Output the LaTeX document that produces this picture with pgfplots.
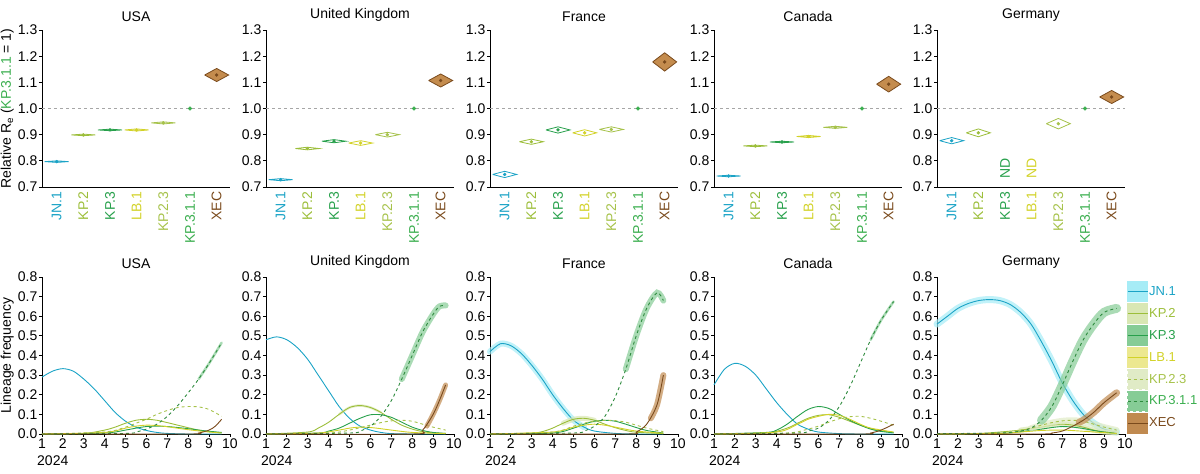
\documentclass[border=0pt]{standalone}
\usepackage{pgfplots}
\pgfplotsset{compat=1.18}
\usepackage{fontspec}
\setmainfont{Liberation Sans}
\definecolor{jn}{HTML}{1BA3C6}
\definecolor{kptwo}{HTML}{9CBE3A}
\definecolor{kpthree}{HTML}{27A04B}
\definecolor{lb}{HTML}{D2D228}
\definecolor{kptt}{HTML}{A6C24A}
\definecolor{kp311}{HTML}{3AAE4E}
\definecolor{xec}{HTML}{7A4A1C}
\definecolor{xecf}{HTML}{C48C4E}
\definecolor{jnb}{HTML}{A6ECF6}
\definecolor{kptwob}{HTML}{D9E7B4}
\definecolor{kpthreeb}{HTML}{86CC96}
\definecolor{lbb}{HTML}{ECE890}
\definecolor{kpttb}{HTML}{E0EBC6}
\definecolor{kp311b}{HTML}{86CC96}
\definecolor{xecb}{HTML}{C08A50}
\newcommand\vio[5]{%
\pgfmathsetmacro\xa{#1-0.45}\pgfmathsetmacro\xb{#1+0.45}%
\pgfmathsetmacro\ya{#2+#3}\pgfmathsetmacro\yb{#2-#3}%
\edef\tmp{\noexpand\addplot[draw=#4,fill=#5,line width=0.8pt] coordinates {(\xa,#2) (#1,\ya) (\xb,#2) (#1,\yb) (\xa,#2)};}\tmp
\addplot[#4,only marks,mark=*,mark size=1.5pt] coordinates {(#1,#2)};}
\newcommand\refdot[1]{\addplot[kp311,only marks,mark=*,mark size=1.8pt] coordinates {(5,1)};\addplot[gray!70,dashed,line width=0.6pt] coordinates {(-0.55,1)(6.5,1)};}
\newcommand\bcur[3]{\addplot[#1b,line width=#2,opacity=0.7,smooth,line cap=round,forget plot] coordinates {#3};}
\newcommand\cur[2]{\addplot[#1,line width=0.9pt,smooth] coordinates {#2};}
\newcommand\fs{\fontsize{14}{16}\selectfont}
\pgfplotsset{
base/.style={scale only axis,width=188pt,height=157pt,anchor=south west,
 axis x line*=bottom,axis y line*=left,axis line style={line width=0.8pt},
 tick style={black,line width=0.8pt},tick align=outside,major tick length=3pt,
 ticklabel style={font=\fs,inner sep=1.5pt},
 /pgf/number format/assume math mode=true,
 title style={font=\fs,yshift=-1pt},clip=false,
 yticklabel style={/pgf/number format/fixed,/pgf/number format/fixed zerofill,/pgf/number format/precision=1}},
top/.style={base,ymin=0.7,ymax=1.3,ytick={0.7,0.8,...,1.31},xmin=-0.55,xmax=6.5,xtick={0,...,6},
 major x tick style={draw=none},
 xticklabel style={rotate=90,anchor=east},
 xticklabels={\textcolor{jn}{JN.1},\textcolor{kptwo}{KP.2},\textcolor{kpthree}{KP.3},\textcolor{lb}{LB.1},\textcolor{kptt}{KP.2.3},\textcolor{kp311}{KP.3.1.1},\textcolor{xec}{XEC}}},
bot/.style={base,xmin=1,xmax=10,ymin=0,ymax=0.8,xtick={1,...,10},ytick={0,0.1,...,0.81}},
lg/.style n args={3}{legend image code/.code={\fill[#2] (0pt,-10pt) rectangle (20pt,10pt);\draw[#1,line width=0.9pt,#3] (0pt,0pt)--(20pt,0pt);}},
jnS/.style={jn,lg={jn}{jnb}{}},
kptwoS/.style={kptwo,lg={kptwo}{kptwob}{}},
kpthreeS/.style={kpthree,lg={kpthree}{kpthreeb}{}},
lbS/.style={lb,lg={lb}{lbb}{}},
kpttS/.style={kptt,dashed,lg={kptt}{kpttb}{dashed}},
kp311S/.style={kp311!80!black,dashed,lg={kp311!80!black}{kp311b}{dashed}},
xecS/.style={xec,lg={xec}{xecb}{}},
}
\begin{document}
\begin{tikzpicture}[x=1pt,y=1pt]
\useasboundingbox (0,0) rectangle (1200,474);
% ---------- top row
\begin{axis}[top,at={(42pt,287pt)},title={USA},ylabel={Relative R\textsubscript{e} (\textcolor{kp311}{KP.3.1.1} = 1)},ylabel style={font=\fs,yshift=-1pt}]
\refdot{}
\vio{0}{0.797}{0.003}{jn}{jn!30}
\vio{1}{0.899}{0.003}{kptwo}{kptwo!30}
\vio{2}{0.918}{0.003}{kpthree}{kpthree!30}
\vio{3}{0.918}{0.004}{lb}{lb!40}
\vio{4}{0.945}{0.004}{kptt}{kptt!30}
\vio{6}{1.128}{0.025}{xec}{xecf}
\end{axis}
\begin{axis}[top,at={(266pt,287pt)},title={United Kingdom}]
\refdot{}
\vio{0}{0.728}{0.004}{jn}{white}
\vio{1}{0.847}{0.005}{kptwo}{white}
\vio{2}{0.875}{0.006}{kpthree}{white}
\vio{3}{0.868}{0.009}{lb}{white}
\vio{4}{0.900}{0.009}{kptt}{white}
\vio{6}{1.107}{0.025}{xec}{xecf}
\end{axis}
\begin{axis}[top,at={(490pt,287pt)},title={France}]
\refdot{}
\vio{0}{0.748}{0.012}{jn}{white}
\vio{1}{0.873}{0.010}{kptwo}{white}
\vio{2}{0.918}{0.012}{kpthree}{white}
\vio{3}{0.907}{0.012}{lb}{white}
\vio{4}{0.920}{0.010}{kptt}{white}
\vio{6}{1.178}{0.035}{xec}{xecf}
\end{axis}
\begin{axis}[top,at={(714pt,287pt)},title={Canada}]
\refdot{}
\vio{0}{0.742}{0.003}{jn}{jn!30}
\vio{1}{0.857}{0.003}{kptwo}{kptwo!30}
\vio{2}{0.872}{0.003}{kpthree}{kpthree!30}
\vio{3}{0.893}{0.004}{lb}{lb!40}
\vio{4}{0.928}{0.004}{kptt}{kptt!30}
\vio{6}{1.093}{0.030}{xec}{xecf}
\end{axis}
\begin{axis}[top,at={(937pt,287pt)},title={Germany}]
\refdot{}
\vio{0}{0.877}{0.012}{jn}{white}
\vio{1}{0.907}{0.015}{kptwo}{white}
\vio{4}{0.942}{0.020}{kptt}{white}
\vio{6}{1.044}{0.025}{xec}{xecf}
\node[rotate=90,anchor=west,text=kpthree,font=\fs] at (axis cs:2,0.72) {ND};
\node[rotate=90,anchor=west,text=lb,font=\fs] at (axis cs:3,0.72) {ND};
\end{axis}
% ---------- bottom row
\begin{axis}[bot,at={(42pt,40pt)},title={USA},ylabel={Lineage frequency},ylabel style={font=\fs,yshift=-1pt}]
\cur{jnS}{(1,.29)(1.5,.32)(2,.333)(2.5,.32)(3,.28)(3.5,.23)(4,.17)(4.5,.11)(5,.065)(5.5,.035)(6,.018)(6.5,.008)(7,.003)(8,0)(9.6,0)}
\cur{kptwoS}{(1,0)(3,.003)(4,.02)(4.5,.035)(5,.055)(5.5,.07)(6,.075)(6.5,.07)(7,.058)(7.5,.045)(8,.032)(8.5,.02)(9,.012)(9.6,.006)}
\cur{kpthreeS}{(1,0)(4,.005)(5,.02)(5.5,.03)(6,.038)(6.5,.04)(7,.038)(7.5,.033)(8,.027)(8.5,.02)(9,.014)(9.6,.008)}
\cur{lbS}{(1,0)(4,.008)(5,.03)(5.5,.04)(6,.045)(6.5,.043)(7,.037)(8,.022)(9,.01)(9.6,.005)}
\cur{kpttS}{(1,0)(4,.01)(5,.035)(5.5,.055)(6,.075)(6.5,.1)(7,.12)(7.5,.135)(8,.14)(8.5,.138)(9,.125)(9.6,.09)}
\bcur{kp311}{2.5pt}{(8.5,.28)(9,.36)(9.6,.465)}
\cur{kp311S}{(1,0)(5,.003)(5.5,.01)(6,.025)(6.5,.05)(7,.09)(7.5,.145)(8,.21)(8.5,.28)(9,.36)(9.6,.465)}
\cur{xecS}{(1,0)(8,0)(8.5,.005)(9,.02)(9.3,.04)(9.6,.075)}
\node[anchor=north west,font=\fs,inner sep=0pt] at ([xshift=-5pt,yshift=-22pt]rel axis cs:0,0) {2024};
\end{axis}
\begin{axis}[bot,at={(266pt,40pt)},title={United Kingdom}]
\cur{jnS}{(1,.48)(1.5,.495)(2,.48)(2.5,.44)(3,.38)(3.5,.3)(4,.22)(4.5,.14)(5,.08)(5.5,.04)(6,.02)(6.5,.008)(7,.002)(8,0)(9.6,0)}
\bcur{kptwo}{2.5pt}{(4.5,.1)(5,.135)(5.5,.145)(6,.135)(6.5,.11)}
\cur{kptwoS}{(1,0)(3,.01)(3.5,.03)(4,.06)(4.5,.1)(5,.135)(5.5,.145)(6,.135)(6.5,.11)(7,.075)(7.5,.045)(8,.025)(8.5,.012)(9,.006)(9.6,.003)}
\cur{kpthreeS}{(1,0)(3.5,.005)(4,.015)(4.5,.03)(5,.055)(5.5,.08)(6,.098)(6.5,.098)(7,.085)(7.5,.06)(8,.035)(8.5,.018)(9,.008)(9.6,.003)}
\cur{lbS}{(1,0)(3.5,.005)(4.5,.02)(5,.03)(5.5,.035)(6,.033)(6.5,.027)(7,.02)(8,.008)(9.6,.002)}
\cur{kpttS}{(1,0)(4,.005)(5,.02)(6,.045)(6.5,.058)(7,.067)(7.5,.07)(8,.065)(8.5,.05)(9,.035)(9.6,.02)}
\bcur{kp311}{6pt}{(7.5,.28)(8,.4)(8.5,.52)(9,.61)(9.3,.65)(9.6,.655)}
\cur{kp311S}{(1,0)(5,.005)(5.5,.015)(6,.04)(6.5,.09)(7,.17)(7.5,.28)(8,.4)(8.5,.52)(9,.61)(9.3,.65)(9.6,.655)}
\bcur{xec}{5pt}{(8.7,.04)(9,.1)(9.3,.17)(9.6,.25)}
\cur{xecS}{(1,0)(8,0)(8.5,.02)(9,.1)(9.3,.17)(9.6,.25)}
\node[anchor=north west,font=\fs,inner sep=0pt] at ([xshift=-5pt,yshift=-22pt]rel axis cs:0,0) {2024};
\end{axis}
\begin{axis}[bot,at={(490pt,40pt)},title={France}]
\bcur{jn}{6pt}{(1,.42)(1.5,.46)(2,.45)(2.5,.41)(3,.35)(3.5,.28)(4,.2)(4.5,.13)(5,.07)(5.5,.035)}
\cur{jnS}{(1,.42)(1.5,.46)(2,.45)(2.5,.41)(3,.35)(3.5,.28)(4,.2)(4.5,.13)(5,.07)(5.5,.035)(6,.015)(7,.003)(8,0)(9.3,0)}
\bcur{kptwo}{5pt}{(4.5,.055)(5,.075)(5.5,.08)(6,.07)}
\cur{kptwoS}{(1,0)(3,.005)(3.5,.012)(4,.03)(4.5,.055)(5,.075)(5.5,.08)(6,.07)(6.5,.05)(7,.032)(7.5,.018)(8,.009)(9.3,.002)}
\cur{kpthreeS}{(1,0)(4,.005)(5,.03)(5.5,.05)(6,.065)(6.5,.07)(7,.065)(7.5,.05)(8,.033)(8.5,.018)(9.3,.005)}
\cur{lbS}{(1,0)(4,.01)(5,.035)(5.5,.045)(6,.05)(6.5,.045)(7,.035)(8,.015)(9.3,.004)}
\cur{kpttS}{(1,0)(4,.01)(5,.04)(5.5,.055)(6,.065)(6.5,.07)(7,.068)(7.5,.06)(8,.045)(8.5,.03)(9.3,.012)}
\bcur{kp311}{6pt}{(7.5,.33)(8,.5)(8.5,.64)(9,.72)(9.3,.68)}
\cur{kp311S}{(1,0)(5,.005)(5.5,.015)(6,.04)(6.5,.09)(7,.19)(7.5,.33)(8,.5)(8.5,.64)(9,.72)(9.3,.68)}
\bcur{xec}{6pt}{(8.7,.08)(9,.15)(9.3,.3)}
\cur{xecS}{(1,0)(7.5,0)(8,.01)(8.5,.05)(9,.15)(9.3,.3)}
\node[anchor=north west,font=\fs,inner sep=0pt] at ([xshift=-5pt,yshift=-22pt]rel axis cs:0,0) {2024};
\end{axis}
\begin{axis}[bot,at={(714pt,40pt)},title={Canada}]
\cur{jnS}{(1,.25)(1.5,.33)(2,.36)(2.5,.345)(3,.3)(3.5,.23)(4,.16)(4.5,.1)(5,.05)(5.5,.025)(6,.01)(7,.002)(8,0)(9.6,0)}
\cur{kptwoS}{(1,0)(3.5,.005)(4.5,.03)(5,.055)(5.5,.08)(6,.095)(6.5,.098)(7,.085)(7.5,.065)(8,.045)(8.5,.028)(9,.016)(9.6,.008)}
\cur{kpthreeS}{(1,0)(3.5,.008)(4,.02)(4.5,.05)(5,.09)(5.5,.125)(6,.14)(6.5,.13)(7,.1)(7.5,.07)(8,.045)(8.5,.025)(9,.013)(9.6,.006)}
\cur{lbS}{(1,0)(4,.01)(5,.05)(5.5,.075)(6,.09)(6.5,.1)(7,.095)(7.5,.075)(8,.05)(8.5,.03)(9.6,.01)}
\cur{kpttS}{(1,0)(4.5,.005)(5.5,.025)(6,.04)(6.5,.06)(7,.078)(7.5,.088)(8,.09)(8.5,.08)(9,.065)(9.6,.045)}
\bcur{kp311}{2.5pt}{(8.5,.48)(9,.58)(9.6,.675)}
\cur{kp311S}{(1,0)(5,.005)(5.5,.015)(6,.03)(6.5,.07)(7,.14)(7.5,.24)(8,.36)(8.5,.48)(9,.58)(9.6,.675)}
\cur{xecS}{(1,0)(8,0)(8.5,.005)(9,.02)(9.6,.05)}
\node[anchor=north west,font=\fs,inner sep=0pt] at ([xshift=-5pt,yshift=-22pt]rel axis cs:0,0) {2024};
\end{axis}
\begin{axis}[bot,at={(937pt,40pt)},title={Germany},
 legend cell align=left,
 legend style={at={(rel axis cs:1,1)},anchor=north west,xshift=-1pt,yshift=-2pt,draw=none,fill=none,row sep=1pt,
 font=\fontsize{13}{15}\selectfont,nodes={inner sep=1pt}}]
\bcur{jn}{7pt}{(1,.56)(1.5,.6)(2,.64)(2.5,.665)(3,.68)(3.5,.685)(4,.68)(4.5,.66)(5,.62)(5.5,.56)(6,.47)(6.5,.37)(7,.26)(7.5,.17)(8,.1)(8.5,.055)(9,.025)(9.6,.01)}
\cur{jnS}{(1,.56)(1.5,.6)(2,.64)(2.5,.665)(3,.68)(3.5,.685)(4,.68)(4.5,.66)(5,.62)(5.5,.56)(6,.47)(6.5,.37)(7,.26)(7.5,.17)(8,.1)(8.5,.055)(9,.025)(9.6,.01)}
\bcur{kptwo}{5pt}{(5,.02)(6,.035)(6.5,.045)(7,.05)(7.5,.045)(8,.035)(8.5,.02)(9,.01)(9.6,.005)}
\cur{kptwoS}{(1,0)(3,.003)(4,.01)(5,.02)(6,.035)(6.5,.045)(7,.05)(7.5,.045)(8,.035)(8.5,.02)(9,.01)(9.6,.005)}
\cur{kpthreeS}{(1,0)(4,.003)(5,.012)(6,.025)(6.5,.033)(7,.038)(7.5,.035)(8,.028)(8.5,.018)(9,.01)(9.6,.004)}
\cur{lbS}{(1,0)(4,.003)(5,.01)(6,.018)(7,.02)(8,.014)(9,.007)(9.6,.003)}
\bcur{kptt}{6pt}{(5.5,.03)(6,.045)(6.5,.058)(7,.067)(7.5,.07)(8,.065)(8.5,.05)(9,.035)(9.6,.02)}
\cur{kpttS}{(1,0)(4,.005)(5,.02)(5.5,.03)(6,.045)(6.5,.058)(7,.067)(7.5,.07)(8,.065)(8.5,.05)(9,.035)(9.6,.02)}
\bcur{kp311}{9pt}{(6,.07)(6.5,.14)(7,.25)(7.5,.37)(8,.48)(8.5,.56)(9,.62)(9.6,.64)}
\cur{kp311S}{(1,.002)(4,.005)(5,.015)(5.5,.03)(6,.07)(6.5,.14)(7,.25)(7.5,.37)(8,.48)(8.5,.56)(9,.62)(9.6,.64)}
\bcur{xec}{7pt}{(7.8,.06)(8,.07)(8.5,.11)(9,.16)(9.6,.21)}
\cur{xecS}{(1,0)(6,0)(6.5,.005)(7,.015)(7.5,.04)(8,.07)(8.5,.11)(9,.16)(9.6,.21)}
\legend{\textcolor{jn}{JN.1},\textcolor{kptwo}{KP.2},\textcolor{kpthree}{KP.3},\textcolor{lb}{LB.1},\textcolor{kptt}{KP.2.3},\textcolor{kp311}{KP.3.1.1},\textcolor{xec}{XEC}}
\node[anchor=north west,font=\fs,inner sep=0pt] at ([xshift=-5pt,yshift=-22pt]rel axis cs:0,0) {2024};
\end{axis}
\end{tikzpicture}
\end{document}
